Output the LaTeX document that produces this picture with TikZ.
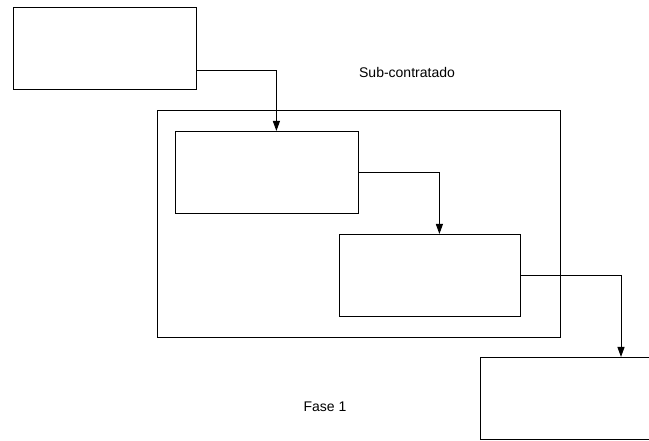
\documentclass[tikz,border=0pt]{standalone}
\usepackage{fontspec}
\setmainfont{Liberation Sans}
\usetikzlibrary{arrows.meta,positioning}
\begin{document}
\begin{tikzpicture}[x=1pt,y=-1pt,
  box/.style={draw, line width=0.8pt, inner sep=0pt, anchor=north west},
  arr/.style={draw, line width=1pt, -{Triangle[length=10pt,width=7pt]}},
  lbl/.style={font=\fontsize{14}{16}\selectfont}]
\useasboundingbox (0,0) rectangle (649,441);
\clip (0,0) rectangle (649,441);
% outer container
\node[box, minimum width=403pt, minimum height=227pt] (sub) at (157,110) {};
% boxes
\node[box, minimum width=183pt, minimum height=82pt] (A) at (13,7) {};
\node[box, minimum width=183pt, minimum height=82pt] (B) at (175,131) {};
\node[box, minimum width=181pt, minimum height=82pt] (C) at (339,234) {};
\node[box, minimum width=200pt, minimum height=82pt] (D) at (480,357) {};
% labels
\node[lbl] (t1) at (407,72) {Sub-contratado};
\node[lbl] (t2) at (325,407) {Fase 1};
% connectors
\coordinate (a1) at ([yshift=-22]A.east);
\draw[arr] (a1) -| ([xshift=9.5]B.north);
\draw[arr] (B.east) -| ([xshift=9.5]C.north);
\draw[arr] (C.east) -| ([xshift=141]D.north west);
\end{tikzpicture}
\end{document}
